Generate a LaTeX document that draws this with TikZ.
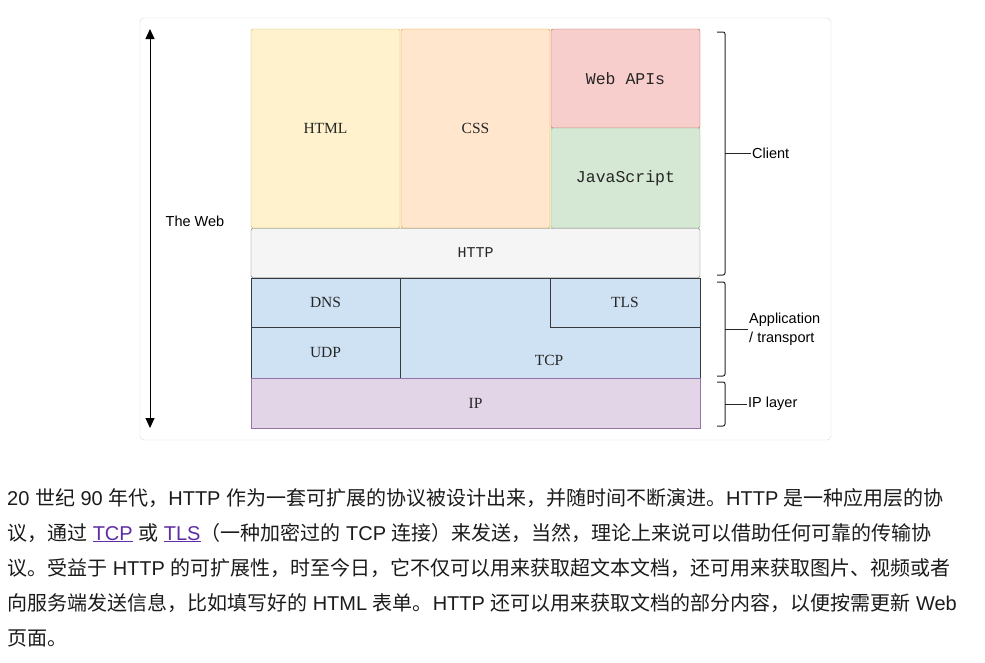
\documentclass[tikz,border=0pt]{standalone}
\usepackage{fontspec}
\usetikzlibrary{arrows.meta}
\setmainfont{Liberation Serif}
\newfontfamily\monofont{Liberation Mono}
\newfontfamily\labelfont{Liberation Sans}
\newfontfamily\cjk{Noto Sans CJK SC}
\newcommand{\en}[1]{{\labelfont #1}}
\definecolor{htmlfill}{HTML}{FFF2CC}\definecolor{htmlline}{HTML}{D6B656}
\definecolor{cssfill}{HTML}{FFE6CC}\definecolor{cssline}{HTML}{D79B00}
\definecolor{apifill}{HTML}{F8CECC}\definecolor{apiline}{HTML}{B85450}
\definecolor{jsfill}{HTML}{D5E8D4}\definecolor{jsline}{HTML}{82B366}
\definecolor{httpfill}{HTML}{F5F5F5}\definecolor{httpline}{HTML}{666666}
\definecolor{netfill}{HTML}{CFE2F3}\definecolor{netline}{HTML}{36393D}
\definecolor{ipfill}{HTML}{E1D5E7}\definecolor{ipline}{HTML}{9673A6}
\definecolor{framecol}{HTML}{D6D6D6}
\definecolor{bodytext}{HTML}{1B1B1B}
\definecolor{link}{HTML}{5E2CA5}
\begin{document}
\begin{tikzpicture}[x=1pt,y=-1pt,>={Triangle[width=9pt,length=10pt]},
    layer/.style={draw=#1line,fill=#1fill,rounded corners=2pt,inner sep=0pt,
      font=\fontsize{15.5}{15.5}\selectfont,text=black!85},
    lbl/.style={font=\labelfont\fontsize{14.5}{18.5}\selectfont,inner sep=1pt,align=left},
    brace/.style={draw=black!85,line width=1pt,rounded corners=2pt},
    para/.style={anchor=base west,inner sep=0pt,text=bodytext,font=\cjk\fontsize{20}{20}\selectfont}]
  \useasboundingbox (0,0) rectangle (985,662);
  \draw[framecol,rounded corners=4pt] (140,18) rectangle (831,440);
  % upper layers
  \node[layer=html,minimum width=149,minimum height=199] (html) at (325.5,128.5) {HTML};
  \node[layer=css,minimum width=149,minimum height=199] (css) at (475.5,128.5) {CSS};
  \node[layer=api,minimum width=149,minimum height=99,font=\monofont\fontsize{16.5}{16.5}\selectfont] (api) at (625.5,78.5) {Web APIs};
  \node[layer=js,minimum width=149,minimum height=100,font=\monofont\fontsize{16.5}{16.5}\selectfont] (js) at (625.5,178) {JavaScript};
  \node[layer=http,minimum width=449,minimum height=49,font=\monofont\fontsize{15}{15}\selectfont] (http) at (475.5,253) {HTTP};
  % transport
  \draw[netline,fill=netfill] (400,278) -- (550,278) -- (550,327) -- (700,327) -- (700,378) -- (400,378) -- cycle;
  \node[font=\fontsize{15.5}{15.5}\selectfont,text=black!85] (tcp) at (549,360) {TCP};
  \node[layer=net,rounded corners=0pt,minimum width=149,minimum height=49] (dns) at (325.5,302.5) {DNS};
  \node[layer=net,rounded corners=0pt,minimum width=149,minimum height=51] (udp) at (325.5,352.5) {UDP};
  \node[layer=net,rounded corners=0pt,minimum width=150,minimum height=49] (tls) at (625,302.5) {TLS};
  \node[layer=ip,rounded corners=0pt,minimum width=449,minimum height=50] (ip) at (475.5,403) {IP};
  % the web
  \coordinate (webtop) at (150,29);
  \coordinate (webbot) at (150,428);
  \draw[<->,line width=1pt] (webtop) -- (webbot);
  \node[lbl] (web) at (195,221) {The Web};
  % braces
  \node[lbl,anchor=west] (client) at (751,153) {Client};
  \node[lbl,anchor=west] (app) at (748,329) {Application\\/ transport};
  \node[lbl,anchor=west] (iplayer) at (747,404) {IP layer};
  \draw[brace] (717,32) -| (725,275) -- (717,275);
  \draw[brace] (725,153) -- (client.west);
  \draw[brace] (717,282) -| (725,376) -- (717,376);
  \draw[brace] (725,329) -- (app.west);
  \draw[brace] (717,382) -| (725,426) -- (717,426);
  \draw[brace] (725,404) -- (iplayer.west);
  % paragraph
  \node[para] (l1) at (7,505) {\en{20 }世纪\en{ 90 }年代，\en{HTTP }作为一套可扩展的协议被设计出来，并随时间不断演进。\en{HTTP }是一种应用层的协};
  \node[para] (l2) at (7,540) {议，通过\en{ \textcolor{link}{\underline{TCP}} }或\en{ \textcolor{link}{\underline{TLS}}}（一种加密过的\en{ TCP }连接）来发送，当然，理论上来说可以借助任何可靠的传输协};
  \node[para] (l3) at (7,575) {议。受益于\en{ HTTP }的可扩展性，时至今日，它不仅可以用来获取超文本文档，还可用来获取图片、视频或者};
  \node[para] (l4) at (7,610) {向服务端发送信息，比如填写好的\en{ HTML }表单。\en{HTTP }还可以用来获取文档的部分内容，以便按需更新\en{ Web}};
  \node[para] (l5) at (7,645) {页面。};
\end{tikzpicture}
\end{document}
